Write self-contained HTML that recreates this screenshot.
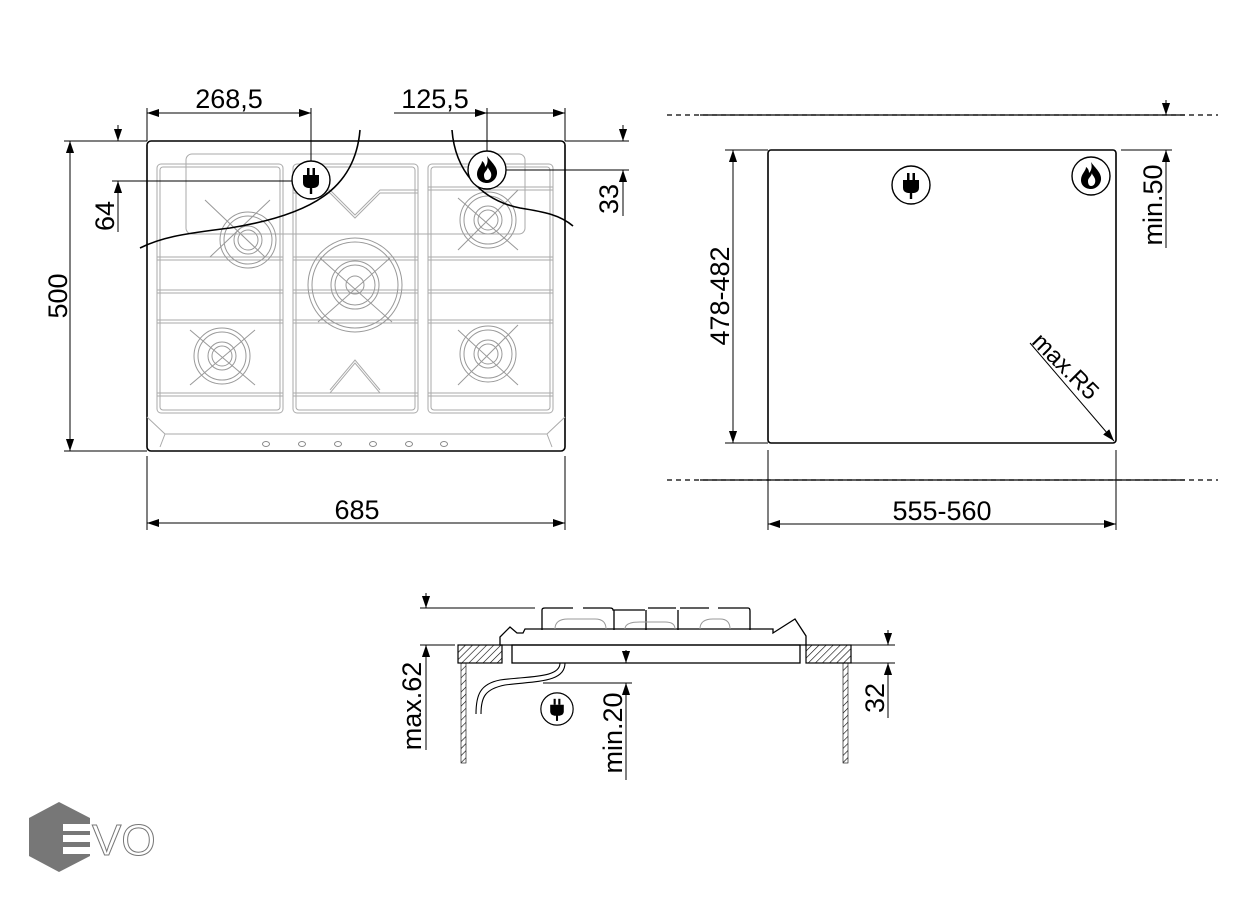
<!DOCTYPE html>
<html><head><meta charset="utf-8"><style>
html,body{margin:0;padding:0;background:#fff}
svg{display:block}
text{font-family:"Liberation Sans",sans-serif;fill:#000}
</style></head><body>
<svg width="1255" height="900" viewBox="0 0 1255 900" xmlns="http://www.w3.org/2000/svg">
<defs>
<marker id="a" viewBox="0 0 10 10" refX="10" refY="5" markerWidth="12" markerHeight="9" orient="auto-start-reverse" markerUnits="userSpaceOnUse" preserveAspectRatio="none"><path d="M0,0.5 L10,5 L0,9.5 z" fill="#000"/></marker>
<pattern id="h" width="5" height="5" patternUnits="userSpaceOnUse" patternTransform="rotate(45)"><line x1="0" y1="0" x2="0" y2="5" stroke="#000" stroke-width="1.2"/></pattern>
<g id="plug"><circle r="19" fill="#fff" stroke="#000" stroke-width="1.4"/><rect x="-4" y="-12" width="2.5" height="7" fill="#000"/><rect x="1.5" y="-12" width="2.5" height="7" fill="#000"/><path d="M-8,-5 H8 V3 Q8,7 3,8 H-3 Q-8,7 -8,3 z" fill="#000"/><rect x="-1.2" y="7" width="2.4" height="7" fill="#000"/></g>
<g id="flame"><circle r="19" fill="#fff" stroke="#000" stroke-width="1.4"/><path d="M0,-14 C4,-8 11,-3 10,4 C9,10 4,13 0,13 C-5,13 -10,10 -10,4 C-10,-2 -5,-5 -5,-9 C-2,-7 -2,-4 -2,-3 C1,-6 1,-10 0,-14 z M0,10 C3,10 5,7 4,3 C3,0 1,-1 1,-3 C0,1 -3,2 -3,5 C-3,8 -2,10 0,10z" fill="#000" fill-rule="evenodd"/></g>
<g id="burn" fill="none" stroke="#999" stroke-width="1"><circle r="28"/><circle r="24"/><circle r="14"/><circle r="10"/></g>
</defs>

<!-- ===== Top-left hob ===== -->
<g fill="none" stroke="#000">
<rect x="147" y="141" width="418" height="310" rx="4" stroke-width="1.6"/>
</g>
<g fill="none" stroke="#aaa" stroke-width="1">
<rect x="186" y="154" width="339" height="80" rx="6"/>
<path d="M147,417 L165,434 H547 L565,417 M165,434 L160,447 M547,434 L552,447"/>
<rect x="157" y="164" width="126" height="249" rx="4"/><rect x="160" y="167" width="120" height="243" rx="3"/>
<rect x="293" y="164" width="125" height="249" rx="4"/><rect x="296" y="167" width="119" height="243" rx="3"/>
<rect x="428" y="164" width="125" height="249" rx="4"/><rect x="431" y="167" width="119" height="243" rx="3"/>
<path d="M157,257 H283 M157,260 H283 M157,290 H283 M157,293 H283 M157,320 H283 M157,323 H283 M157,393 H283 M157,396 H283"/>
<path d="M293,257 H418 M293,260 H418 M293,290 H418 M293,293 H418 M293,320 H418 M293,323 H418 M293,393 H418 M293,396 H418"/>
<path d="M428,187 H553 M428,190 H553 M428,257 H553 M428,260 H553 M428,290 H553 M428,293 H553 M428,320 H553 M428,323 H553 M428,393 H553 M428,396 H553"/>
<path d="M330,190 L355,215 L380,190 H418 M330,193 L355,218 L380,193 H418 M293,190 H330 M293,193 H330"/>
<path d="M330,393 L355,363 L380,393 M330,390 L355,360 L380,390"/>
</g>
<use href="#burn" x="222" y="356"/>
<use href="#burn" x="488" y="220"/>
<use href="#burn" x="488" y="354"/>
<use href="#burn" x="248" y="240"/>
<g fill="none" stroke="#999"><circle cx="355" cy="285" r="47"/><circle cx="355" cy="285" r="43"/><circle cx="355" cy="285" r="24"/><circle cx="355" cy="285" r="20"/><circle cx="355" cy="285" r="9"/>
<path d="M320,258 L392,322 M390,258 L318,322 M458,198 L518,250 M518,190 L458,250 M458,330 L518,385 M518,325 L458,385 M190,330 L255,385 M255,330 L190,385 M205,200 L265,257 M270,200 L210,257"/></g>
<g fill="#fff" stroke="#888"><ellipse cx="266" cy="444" rx="3.5" ry="2.5"/><ellipse cx="302" cy="444" rx="3.5" ry="2.5"/><ellipse cx="338" cy="444" rx="3.5" ry="2.5"/><ellipse cx="373" cy="444" rx="3.5" ry="2.5"/><ellipse cx="409" cy="444" rx="3.5" ry="2.5"/><ellipse cx="444" cy="444" rx="3.5" ry="2.5"/></g>
<!-- cut curves -->
<g fill="none" stroke="#000" stroke-width="1.6">
<path d="M360,130 C355,190 310,215 230,228 C180,234 160,238 140,248"/>
<path d="M452,130 C455,170 480,200 520,208 C545,212 560,215 573,226"/>
</g>
<!-- dims top-left -->
<g stroke="#000" stroke-width="1" fill="none">
<path d="M147,108 V141 M311,108 V161 M487,108 V151 M565,108 V141"/>
<line x1="147" y1="113" x2="311" y2="113" marker-start="url(#a)" marker-end="url(#a)"/>
<line x1="394" y1="113" x2="487" y2="113" marker-end="url(#a)"/>
<line x1="487" y1="113" x2="565" y2="113" marker-end="url(#a)"/>
<path d="M64,141 H147 M64,451 H147 M112,181 H292 M565,141 H629 M506,170 H629"/>
<line x1="70" y1="141" x2="70" y2="451" marker-start="url(#a)" marker-end="url(#a)"/>
<line x1="118" y1="125" x2="118" y2="141" marker-end="url(#a)"/>
<line x1="118" y1="232" x2="118" y2="181" marker-end="url(#a)"/>
<line x1="623" y1="125" x2="623" y2="141" marker-end="url(#a)"/>
<line x1="623" y1="216" x2="623" y2="170" marker-end="url(#a)"/>
<path d="M147,456 V530 M565,456 V530"/>
<line x1="147" y1="523" x2="565" y2="523" marker-start="url(#a)" marker-end="url(#a)"/>
</g>
<use href="#plug" x="311" y="180"/>
<use href="#flame" x="487" y="170"/>
<g font-size="27">
<text x="229" y="108" text-anchor="middle">268,5</text>
<text x="435" y="108" text-anchor="middle">125,5</text>
<text x="357" y="519" text-anchor="middle">685</text>
<text transform="translate(67,296) rotate(-90)" text-anchor="middle">500</text>
<text transform="translate(114,216) rotate(-90)" text-anchor="middle">64</text>
<text transform="translate(618,199) rotate(-90)" text-anchor="middle">33</text>
</g>

<!-- ===== Right cutout ===== -->
<g stroke="#000" stroke-width="1.2" fill="none">
<line x1="667" y1="115" x2="1218" y2="115" stroke-dasharray="5,4"/>
<line x1="700" y1="115" x2="1185" y2="115"/>
<line x1="667" y1="480" x2="1218" y2="480" stroke-dasharray="5,4"/>
<line x1="700" y1="480" x2="1185" y2="480"/>
<rect x="768" y="150" width="348" height="293" rx="3" stroke-width="1.6"/>
</g>
<g stroke="#000" stroke-width="1" fill="none">
<path d="M725,150 H768 M725,443 H768 M1121,150 H1172 M768,450 V530 M1116,450 V530"/>
<line x1="733" y1="150" x2="733" y2="443" marker-start="url(#a)" marker-end="url(#a)"/>
<line x1="1166" y1="100" x2="1166" y2="115" marker-end="url(#a)"/>
<line x1="1166" y1="248" x2="1166" y2="150" marker-end="url(#a)"/>
<line x1="768" y1="524" x2="1116" y2="524" marker-start="url(#a)" marker-end="url(#a)"/>
<line x1="1030" y1="343" x2="1114" y2="441" marker-end="url(#a)"/>
</g>
<use href="#plug" x="911" y="185"/>
<use href="#flame" x="1091" y="176"/>
<g font-size="27">
<text x="942" y="520" text-anchor="middle">555-560</text>
<text transform="translate(729,296) rotate(-90)" text-anchor="middle">478-482</text>
<text transform="translate(1162,205) rotate(-90)" text-anchor="middle">min.50</text>
<text transform="translate(1060,372) rotate(45)" text-anchor="middle" font-size="24">max.R5</text>
</g>

<!-- ===== Side view ===== -->
<g stroke="#000" stroke-width="1.2">
<rect x="458" y="645" width="44" height="18" fill="url(#h)"/>
<rect x="806" y="645" width="45" height="18" fill="url(#h)"/>
<rect x="461" y="663" width="5" height="100" fill="url(#h)" stroke-width="0.6"/>
<rect x="843" y="663" width="5" height="100" fill="url(#h)" stroke-width="0.6"/>
</g>
<g stroke="#000" stroke-width="1.3" fill="none">
<rect x="512" y="645" width="288" height="18"/>
<path d="M500,643 V637 L510,627 L517,633 H523 L525,629 H773 L773,633 L795,619 L806,636 V645 H500 z"/>
<path d="M542,630 V610 Q542,608 545,608 H573 M583,608 H610 Q613,608 613,610 H645 M648,608 H676 M680,608 H709 M718,608 H748 Q750,608 750,611 V630"/>
<path d="M614,610 V630 M646,610 V630 M678,610 V630"/>
<path d="M560,663 C560,678 530,676 500,680 C480,684 476,695 476,714 M565,663 C565,683 535,681 505,685 C485,689 481,697 481,714" stroke-width="1.1"/>
</g>
<g stroke="#999" fill="none"><path d="M555,629 Q555,619 568,619 H595 Q606,619 606,629 M700,629 Q700,619 713,619 H720 Q730,619 730,629 M625,629 Q625,622 640,622 H665 Q675,622 675,629"/></g>
<g stroke="#000" stroke-width="1" fill="none">
<path d="M420,608 H535 M420,645 H455 M543,683 H632 M851,645 H895 M851,663 H895"/>
<line x1="426" y1="593" x2="426" y2="608" marker-end="url(#a)"/>
<line x1="426" y1="750" x2="426" y2="645" marker-end="url(#a)"/>
<line x1="626" y1="650" x2="626" y2="663" marker-end="url(#a)"/>
<line x1="626" y1="780" x2="626" y2="683" marker-end="url(#a)"/>
<line x1="888" y1="630" x2="888" y2="645" marker-end="url(#a)"/>
<line x1="888" y1="718" x2="888" y2="663" marker-end="url(#a)"/>
</g>
<g transform="translate(557,709) scale(0.85)"><use href="#plug"/></g>
<g font-size="27">
<text transform="translate(421,706) rotate(-90)" text-anchor="middle">max.62</text>
<text transform="translate(622,733) rotate(-90)" text-anchor="middle">min.20</text>
<text transform="translate(884,698) rotate(-90)" text-anchor="middle">32</text>
</g>

<!-- EVO logo -->
<polygon points="59,802 90,818 90,856 59,872 29,856 29,818" fill="#777"/>
<g fill="#fff"><rect x="63" y="824" width="30" height="7"/><rect x="63" y="835" width="30" height="7"/><rect x="63" y="847" width="30" height="7"/></g>
<text x="92" y="855" font-size="44" stroke="#777" stroke-width="1" style="fill:#fff">VO</text>
</svg>
</body></html>
